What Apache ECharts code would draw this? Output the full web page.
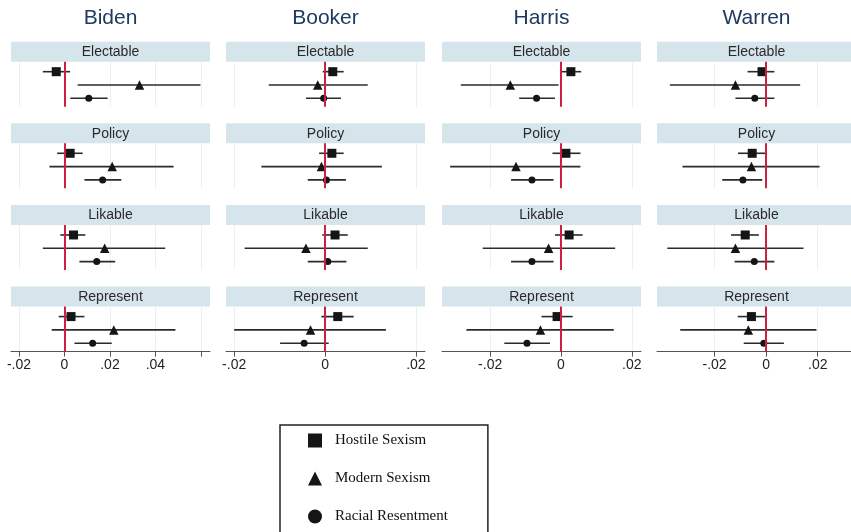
<!DOCTYPE html>
<html>
<head>
<meta charset="utf-8">
<script src="https://cdn.jsdelivr.net/npm/echarts@6/dist/echarts.min.js"></script>
<style>
  html, body { margin: 0; padding: 0; background: #fff; }
  #chart { width: 851px; height: 532px; }
</style>
</head>
<body>
<div id="chart"></div>
<script>
const candidates = ["Biden", "Booker", "Harris", "Warren"];
const measures = ["Electable", "Policy", "Likable", "Represent"];
const seriesNames = ["Hostile Sexism", "Modern Sexism", "Racial Resentment"];

// rows: Electable, Policy, Likable, Represent ; cols: hostile, modern, racial
const bidenEst = [[-0.0036, 0.033, 0.0107], [0.0025, 0.021, 0.0168], [0.004, 0.0177, 0.0142], [0.0029, 0.0217, 0.0124]];
const bidenLo = [[-0.0095, 0.0058, 0.0026], [-0.0032, -0.0066, 0.0088], [-0.0018, -0.0095, 0.0066], [-0.0025, -0.0056, 0.0044]];
const bidenHi = [[0.0025, 0.0598, 0.019], [0.008, 0.048, 0.025], [0.0092, 0.0443, 0.0223], [0.0088, 0.0488, 0.0208]];

const bookerEst = [[0.0017, -0.0016, -0.0003], [0.0015, -0.0008, 0.0003], [0.0022, -0.0042, 0.0006], [0.0028, -0.0032, -0.0046]];
const bookerLo = [[-0.0005, -0.0124, -0.0042], [-0.0013, -0.014, -0.0038], [-0.0006, -0.0177, -0.0038], [-0.0008, -0.02, -0.0099]];
const bookerHi = [[0.0041, 0.0094, 0.0035], [0.0041, 0.0125, 0.0046], [0.005, 0.0094, 0.0047], [0.0063, 0.0134, 0.0008]];

const harrisEst = [[0.0028, -0.0143, -0.0069], [0.0014, -0.0127, -0.0082], [0.0023, -0.0035, -0.0082], [-0.0011, -0.0058, -0.0096]];
const harrisLo = [[-0.0003, -0.0283, -0.0118], [-0.0024, -0.0313, -0.0141], [-0.0017, -0.0221, -0.0141], [-0.0055, -0.0267, -0.016]];
const harrisHi = [[0.0057, -0.0007, -0.0017], [0.0055, 0.0055, -0.0021], [0.0061, 0.0153, -0.0021], [0.0033, 0.0149, -0.0031]];

const warrenEst = [[-0.0016, -0.0119, -0.0044], [-0.0054, -0.0057, -0.009], [-0.0081, -0.0119, -0.0046], [-0.0057, -0.0069, -0.0009]];
const warrenLo = [[-0.0072, -0.0373, -0.0119], [-0.0109, -0.0324, -0.017], [-0.0136, -0.0383, -0.0122], [-0.011, -0.0333, -0.0087]];
const warrenHi = [[0.0032, 0.0132, 0.0032], [0, 0.0207, -0.0015], [-0.0028, 0.0145, 0.0032], [0, 0.0195, 0.0069]];

const xMin = [-0.0235, -0.0218, -0.0336, -0.0423];
const xMax = [0.064, 0.022, 0.0226, 0.0329];
const tickValues = [[-0.02, 0, 0.02, 0.04, 0.06], [-0.02, 0, 0.02], [-0.02, 0, 0.02], [-0.02, 0, 0.02]];
const labelValues = [[-0.02, 0, 0.02, 0.04], [-0.02, 0, 0.02], [-0.02, 0, 0.02], [-0.02, 0, 0.02]];

const est = [bidenEst, bookerEst, harrisEst, warrenEst];
const lo = [bidenLo, bookerLo, harrisLo, warrenLo];
const hi = [bidenHi, bookerHi, harrisHi, warrenHi];

// layout
const colLeft = [11, 226, 442, 657];
const rowTop = [41.7, 123.3, 205, 286.6];
const headH = 20, plotH = 45, panelW = 199;
const yPos = [3, 2, 1];
const symbols = ["rect", "triangle", "circle"];
const symbolSizes = [9, 9.5, 7];
const red = "#cf1f45";
const ink = "#151515";

function fmt(v) {
  if (v === 0) return "0";
  return String(+v.toFixed(2)).replace("0.", ".");
}

const grid = [], xAxis = [], yAxis = [], series = [], graphic = [];

candidates.forEach((cand, c) => {
  graphic.push({
    type: "text",
    x: colLeft[c] + panelW / 2,
    y: 18,
    style: {
      text: cand, fill: "#1f3a60", font: "21px 'Liberation Sans', Arial",
      textAlign: "center", textVerticalAlign: "middle"
    }
  });
  measures.forEach((m, r) => {
    const i = grid.length;
    const bottom = r === measures.length - 1;
    graphic.push({
      type: "rect",
      shape: { x: colLeft[c], y: rowTop[r], width: panelW, height: headH },
      style: { fill: "#d6e4eb" }
    });
    graphic.push({
      type: "text",
      x: colLeft[c] + panelW / 2,
      y: rowTop[r] + headH / 2 + 0.5,
      style: {
        text: m, fill: "#2a2a2a", font: "14px 'Liberation Sans', Arial",
        textAlign: "center", textVerticalAlign: "middle"
      }
    });
    grid.push({ left: colLeft[c], top: rowTop[r] + headH, width: panelW, height: plotH });
    xAxis.push({
      gridIndex: i, type: "value", min: xMin[c], max: xMax[c],
      axisLine: { show: bottom, onZero: false, lineStyle: { color: "#555", width: 1 } },
      axisTick: { show: bottom, length: 5, customValues: tickValues[c], lineStyle: { color: "#555" } },
      axisLabel: {
        show: bottom, customValues: labelValues[c], formatter: fmt,
        fontSize: 14, color: "#222", margin: 7, fontFamily: "'Liberation Sans', Arial"
      },
      splitLine: { show: true, lineStyle: { color: "#eaf0f3", width: 1 } }
    });
    yAxis.push({ gridIndex: i, type: "value", min: 0.37, max: 3.75, show: false });

    // confidence intervals
    series.push({
      type: "custom",
      xAxisIndex: i, yAxisIndex: i,
      silent: true,
      z: 2,
      data: yPos.map((y, s) => [lo[c][r][s], hi[c][r][s], y]),
      encode: { x: [0, 1], y: 2 },
      renderItem: (params, api) => {
        const p1 = api.coord([api.value(0), api.value(2)]);
        const p2 = api.coord([api.value(1), api.value(2)]);
        return {
          type: "line",
          shape: { x1: p1[0], y1: p1[1], x2: p2[0], y2: p2[1] },
          style: { stroke: "#2b2b2b", lineWidth: 1.6 }
        };
      },
      markLine: {
        silent: true, symbol: "none", animation: false,
        label: { show: false },
        lineStyle: { color: red, width: 2, type: "solid" },
        data: [{ xAxis: 0 }]
      }
    });
    seriesNames.forEach((name, s) => {
      series.push({
        name: name,
        type: "scatter",
        xAxisIndex: i, yAxisIndex: i,
        symbol: symbols[s],
        symbolSize: symbolSizes[s],
        itemStyle: { color: ink, opacity: 1 },
        z: 4,
        data: [[est[c][r][s], yPos[s]]]
      });
    });
  });
});

const chart = echarts.init(document.getElementById("chart"), null, { renderer: "canvas" });
chart.setOption({
  animation: false,
  backgroundColor: "#fff",
  grid: grid,
  xAxis: xAxis,
  yAxis: yAxis,
  graphic: graphic,
  legend: {
    orient: "vertical",
    left: 280,
    top: 425,
    height: 300,
    selectedMode: false,
    padding: [8, 40, 9, 28],
    itemGap: 23,
    itemWidth: 14,
    itemHeight: 14,
    borderColor: "#222",
    borderWidth: 1.5,
    textStyle: { fontFamily: "'Liberation Serif', 'Times New Roman', serif", fontSize: 15, color: "#111", padding: [0, 0, 0, 8] },
    data: seriesNames.map((n, s) => ({ name: n, icon: symbols[s], itemStyle: { color: ink } }))
  },
  series: series
});
</script>
</body>
</html>
